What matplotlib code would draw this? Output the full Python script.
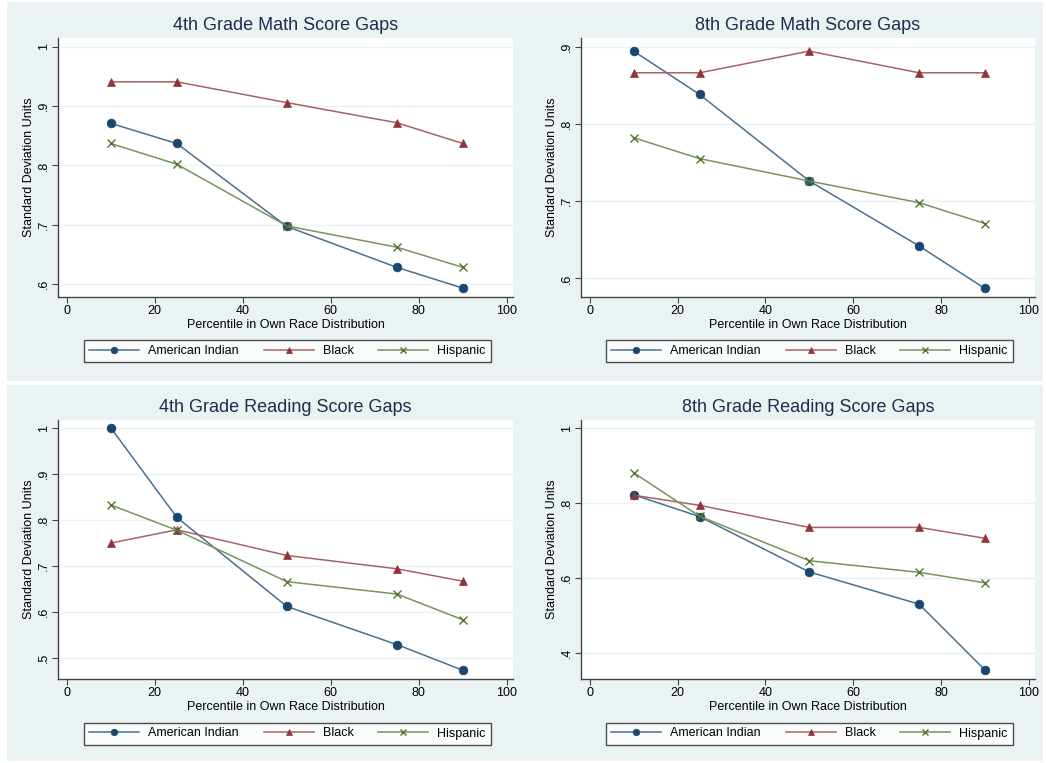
import matplotlib
matplotlib.use("Agg")
import matplotlib.pyplot as plt
from matplotlib.patches import Rectangle
from matplotlib.colors import to_rgb

plt.rcParams['font.family'] = ['Liberation Sans', 'DejaVu Sans']

W, H = 1046, 763

percentiles = [10, 25, 50, 75, 90]
series_names = ["American Indian", "Black", "Hispanic"]

titles = ["4th Grade Math Score Gaps", "8th Grade Math Score Gaps",
          "4th Grade Reading Score Gaps", "8th Grade Reading Score Gaps"]

math4_ai = [0.871, 0.837, 0.697, 0.628, 0.593]
math4_black = [0.941, 0.941, 0.906, 0.872, 0.837]
math4_hisp = [0.837, 0.802, 0.698, 0.662, 0.628]

math8_ai = [0.894, 0.838, 0.726, 0.642, 0.587]
math8_black = [0.866, 0.866, 0.894, 0.866, 0.866]
math8_hisp = [0.782, 0.755, 0.726, 0.698, 0.671]

read4_ai = [1.001, 0.806, 0.612, 0.529, 0.473]
read4_black = [0.750, 0.779, 0.723, 0.694, 0.667]
read4_hisp = [0.833, 0.778, 0.666, 0.639, 0.583]

read8_ai = [0.822, 0.764, 0.616, 0.530, 0.354]
read8_black = [0.821, 0.794, 0.735, 0.735, 0.706]
read8_hisp = [0.881, 0.765, 0.646, 0.615, 0.587]

panel_data = [
    (math4_ai, math4_black, math4_hisp),
    (math8_ai, math8_black, math8_hisp),
    (read4_ai, read4_black, read4_hisp),
    (read8_ai, read8_black, read8_hisp),
]

yticks_list = [
    [0.6, 0.7, 0.8, 0.9, 1.0],
    [0.6, 0.7, 0.8, 0.9],
    [0.5, 0.6, 0.7, 0.8, 0.9, 1.0],
    [0.4, 0.6, 0.8, 1.0],
]
ylims = [(0.578, 1.015), (0.576, 0.911), (0.454, 1.018), (0.330, 1.022)]
xticks = [0, 20, 40, 60, 80, 100]

colors = ["#1A476F", "#90353B", "#55752F"]
markers = ["o", "^", "x"]

bg = "#EAF2F3"


def lighten(c, f=0.25):
    r, g, b = to_rgb(c)
    return (r + (1 - r) * f, g + (1 - g) * f, b + (1 - b) * f)


fig = plt.figure(figsize=(W / 100, H / 100), dpi=100)
fig.patch.set_facecolor("white")


def px_rect(x0, y0, x1, y1):
    return [x0 / W, 1 - y1 / H, (x1 - x0) / W, (y1 - y0) / H]


for (x0, y0, x1, y1) in [(7, 2, 1043, 381), (7, 385, 1043, 761)]:
    r = px_rect(x0, y0, x1, y1)
    fig.patches.append(Rectangle((r[0], r[1]), r[2], r[3], transform=fig.transFigure,
                                 facecolor=bg, edgecolor="none", zorder=-10))

axes_px = [
    (58, 38, 513, 297),
    (581, 38, 1035, 297),
    (58, 420, 513, 679),
    (581, 420, 1035, 679),
]
legend_px = [
    (84, 339, 491, 364),
    (606, 339, 1013, 364),
    (84, 721, 491, 746),
    (606, 721, 1013, 746),
]

for i, (x0, y0, x1, y1) in enumerate(axes_px):
    ax = fig.add_axes(px_rect(x0, y0, x1, y1))
    ax.set_facecolor("white")
    for j, vals in enumerate(panel_data[i]):
        ax.plot(percentiles, vals, color=lighten(colors[j], 0.22), marker=markers[j],
                markersize=6.3 if markers[j] != "x" else 6,
                markeredgewidth=1.0 if markers[j] == "x" else 0.5,
                markerfacecolor=colors[j], markeredgecolor=colors[j],
                linewidth=1.1, label=series_names[j])
    ax.set_xlim(-2, 101.4)
    ax.set_ylim(*ylims[i])
    ax.set_xticks(xticks)
    ax.set_xticklabels([str(t) for t in xticks])
    yt = yticks_list[i]
    ax.set_yticks(yt)
    ax.set_yticklabels(["1" if abs(t - 1) < 1e-9 else ("%.1f" % t).lstrip("0") for t in yt],
                       rotation=90, va="center")
    ax.grid(axis="y", color=bg, linewidth=1.0)
    ax.set_axisbelow(True)
    for s in ["top", "right"]:
        ax.spines[s].set_visible(False)
    for s in ["left", "bottom"]:
        ax.spines[s].set_color("#444444")
        ax.spines[s].set_linewidth(1.0)
    ax.tick_params(direction="out", length=4, width=0.8, color="#444444",
                   labelsize=9, pad=2)
    ax.set_xlabel("Percentile in Own Race Distribution", fontsize=9, labelpad=1)
    ax.set_ylabel("Standard Deviation Units", fontsize=9, labelpad=2)
    ax.set_title(titles[i], fontsize=13, color="#1E2D4E", pad=6)

    lx0, ly0, lx1, ly1 = legend_px[i]
    leg = ax.legend(loc="center", bbox_to_anchor=((lx0 + lx1) / 2 / W, 1 - (ly0 + ly1) / 2 / H),
                    bbox_transform=fig.transFigure, ncol=3, frameon=True, fancybox=False,
                    edgecolor="#222222", fontsize=9, handlelength=4.0,
                    handletextpad=0.7, columnspacing=2.0, borderpad=0.4,
                    markerscale=0.75)
    leg.get_frame().set_linewidth(1.0)
    leg.get_frame().set_facecolor("white")

fig.savefig("out.png", dpi=100, facecolor="white")
